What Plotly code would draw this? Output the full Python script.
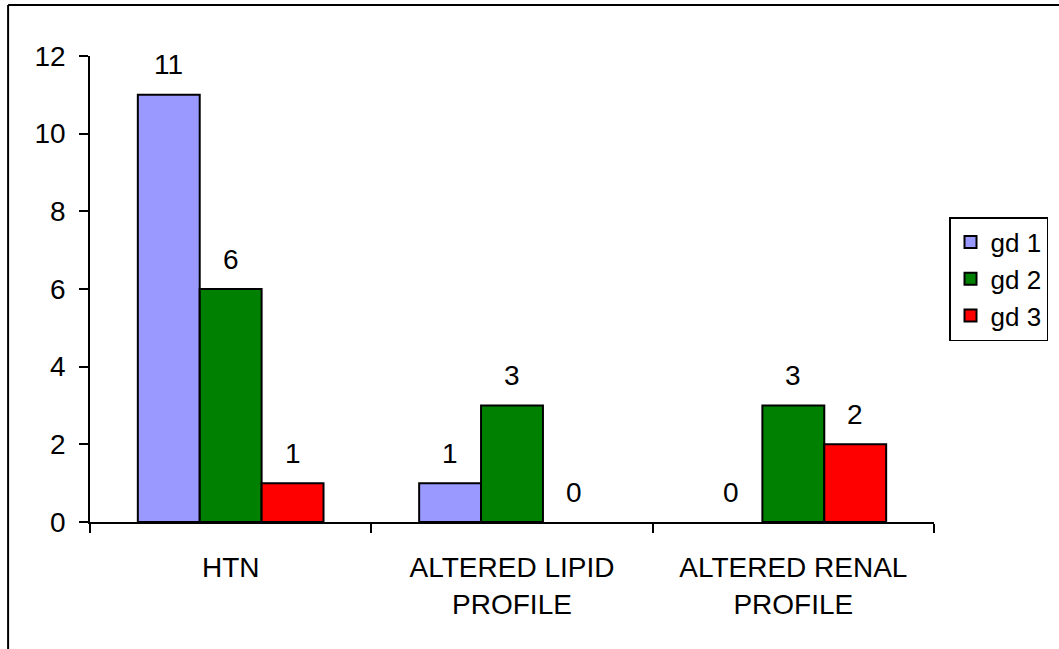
import plotly.graph_objects as go

categories = ["HTN", "ALTERED LIPID<br>PROFILE", "ALTERED RENAL<br>PROFILE"]
series_names = ["gd 1", "gd 2", "gd 3"]
gd1 = [11, 1, 0]
gd2 = [6, 3, 3]
gd3 = [1, 0, 2]
series_values = [gd1, gd2, gd3]
colors = ["#9999FF", "#008000", "#FF0000"]
y_ticks = [0, 2, 4, 6, 8, 10, 12]

W, H = 1059, 649
ML, MR, MT, MB = 90, 124, 56, 127
FONT = "Liberation Sans, Arial, sans-serif"
FS = 28
BARGAP = 0.34

fig = go.Figure()
for name, vals, col in zip(series_names, series_values, colors):
    fig.add_trace(go.Bar(
        name=name, x=categories, y=vals,
        marker=dict(color=col,
                    line=dict(color="black", width=[2 if v else 0 for v in vals])),
    ))

# data labels above bars
bw = (1 - BARGAP) / len(series_values)
annotations = []
for i, vals in enumerate(series_values):
    off = (i - (len(series_values) - 1) / 2) * bw
    for j, v in enumerate(vals):
        annotations.append(dict(
            x=j + off, y=v, xref="x", yref="y", text=str(v), showarrow=False,
            yanchor="middle", yshift=30, font=dict(family=FONT, size=FS, color="black"),
        ))

pw = W - ML - MR
ph = H - MT - MB
def px2paper_x(p):
    return (p - ML) / pw
def px2paper_y(p):
    return (H - MB - p) / ph

shapes = [
    dict(type="line", xref="paper", yref="paper",
         x0=px2paper_x(8), x1=px2paper_x(8), y0=px2paper_y(5), y1=px2paper_y(660),
         line=dict(color="black", width=2)),
    dict(type="line", xref="paper", yref="paper",
         x0=px2paper_x(8), x1=px2paper_x(1070), y0=px2paper_y(5), y1=px2paper_y(5),
         line=dict(color="black", width=2)),
]

fig.update_layout(
    width=W, height=H,
    margin=dict(l=ML, r=MR, t=MT, b=MB, pad=0),
    paper_bgcolor="white", plot_bgcolor="white",
    barmode="group", bargap=BARGAP, bargroupgap=0,
    font=dict(family=FONT, size=FS, color="black"),
    showlegend=True,
    legend=dict(
        x=px2paper_x(949), y=px2paper_y(217), xanchor="left", yanchor="top",
        bordercolor="black", borderwidth=1.5, bgcolor="white",
        font=dict(family=FONT, size=26, color="black"),
        itemsizing="constant",
    ),
    annotations=annotations,
    shapes=shapes,
)
fig.update_xaxes(
    showline=True, linecolor="black", linewidth=1.5,
    ticks="outside", tickson="boundaries", ticklen=9, tickwidth=1.5, tickcolor="black",
    showgrid=False, zeroline=False,
    tickfont=dict(family=FONT, size=FS, color="black"),
    ticklabelstandoff=20,
)
fig.update_yaxes(
    range=[0, 12], tickvals=y_ticks,
    showline=True, linecolor="black", linewidth=1.5,
    ticks="outside", ticklen=9, tickwidth=1.5, tickcolor="black",
    showgrid=False, zeroline=False,
    tickfont=dict(family=FONT, size=FS, color="black"),
    ticklabelstandoff=8,
)

fig.write_html("out.html", config={"displayModeBar": False},
               post_script="document.body.style.margin='0px';document.body.style.padding='0px';")
